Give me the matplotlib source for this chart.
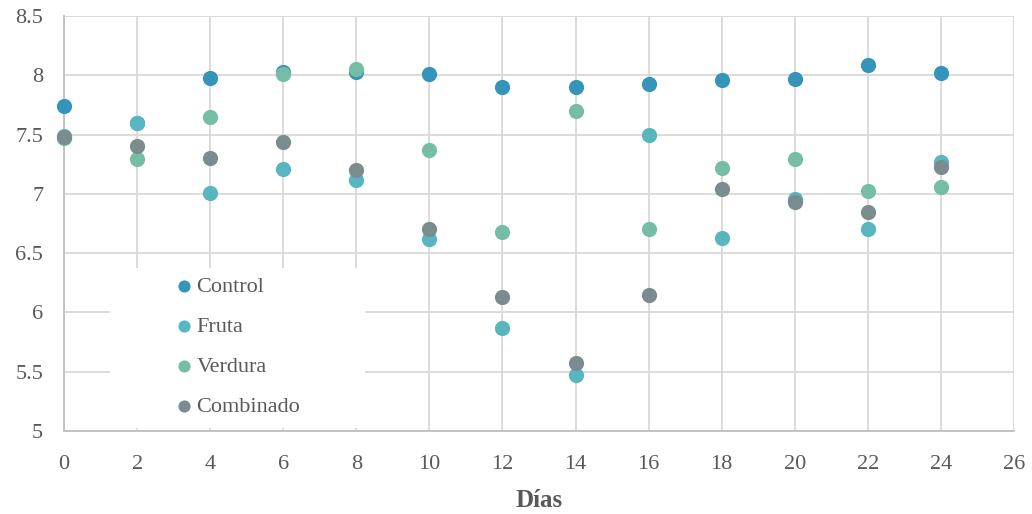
import matplotlib

matplotlib.use("Agg")
import matplotlib.pyplot as plt
from matplotlib.patches import Rectangle

plt.rcParams["font.family"] = ["Liberation Serif", "DejaVu Serif"]

dias = [0, 2, 4, 6, 8, 10, 12, 14, 16, 18, 20, 22, 24]
control = [7.74, 7.60, 7.98, 8.03, 8.03, 8.01, 7.90, 7.90, 7.93, 7.96, 7.97, 8.09, 8.02]
fruta = [7.49, 7.60, 7.01, 7.21, 7.12, 6.62, 5.87, 5.47, 7.50, 6.63, 6.96, 6.70, 7.27]
verdura = [7.47, 7.29, 7.65, 8.01, 8.05, 7.37, 6.68, 7.70, 6.70, 7.22, 7.29, 7.02, 7.06]
combinado = [7.48, 7.40, 7.30, 7.44, 7.20, 6.70, 6.13, 5.57, 6.15, 7.04, 6.93, 6.85, 7.23]

x_ticks = list(range(0, 27, 2))
y_ticks = [5, 5.5, 6, 6.5, 7, 7.5, 8, 8.5]
y_labels = ["5", "5.5", "6", "6.5", "7", "7.5", "8", "8.5"]

series = [
    ("Control", control, "#3494BA"),
    ("Fruta", fruta, "#58B6C0"),
    ("Verdura", verdura, "#75BDA7"),
    ("Combinado", combinado, "#7A8C8E"),
]

text_color = "#595959"
grid_color = "#D9D9D9"

fig = plt.figure(figsize=(10.32, 5.14), dpi=100)
ax = fig.add_axes([0.062, 0.1615, 0.9206, 0.8075])

for label, values, color in series:
    ax.scatter(dias, values, s=120, color=color, label=label, zorder=3,
               linewidths=0, clip_on=False)

ax.set_xlim(0, 26)
ax.set_ylim(5, 8.5)
ax.set_xticks(x_ticks)
ax.set_yticks(y_ticks)
ax.set_yticklabels(y_labels)
ax.grid(True, color=grid_color, linewidth=1.3)
ax.set_axisbelow(True)
for side in ("top", "right"):
    ax.spines[side].set_visible(False)
for side in ("left", "bottom"):
    ax.spines[side].set_color("#BFBFBF")
    ax.spines[side].set_linewidth(1.3)
ax.tick_params(axis="y", length=0, labelsize=16, colors=text_color, pad=15)
ax.tick_params(axis="x", length=0, labelsize=16, colors=text_color, pad=17)
ax.set_xlabel("Días", fontsize=18, fontweight="bold", color=text_color, labelpad=11)

# white box behind the legend hides the grid there
ax.add_patch(Rectangle((0.048, 0.007), 0.269, 0.386, transform=ax.transAxes,
                       facecolor="white", edgecolor="none", zorder=2))

leg = ax.legend(
    loc="upper left",
    bbox_to_anchor=(0.117, 0.373),
    frameon=False,
    fontsize=16,
    labelspacing=0.88,
    handlelength=0.8,
    handletextpad=0.15,
    borderpad=0,
    borderaxespad=0,
    markerscale=0.8,
)
for t in leg.get_texts():
    t.set_color(text_color)

fig.savefig("out.png", dpi=100, facecolor="white")
